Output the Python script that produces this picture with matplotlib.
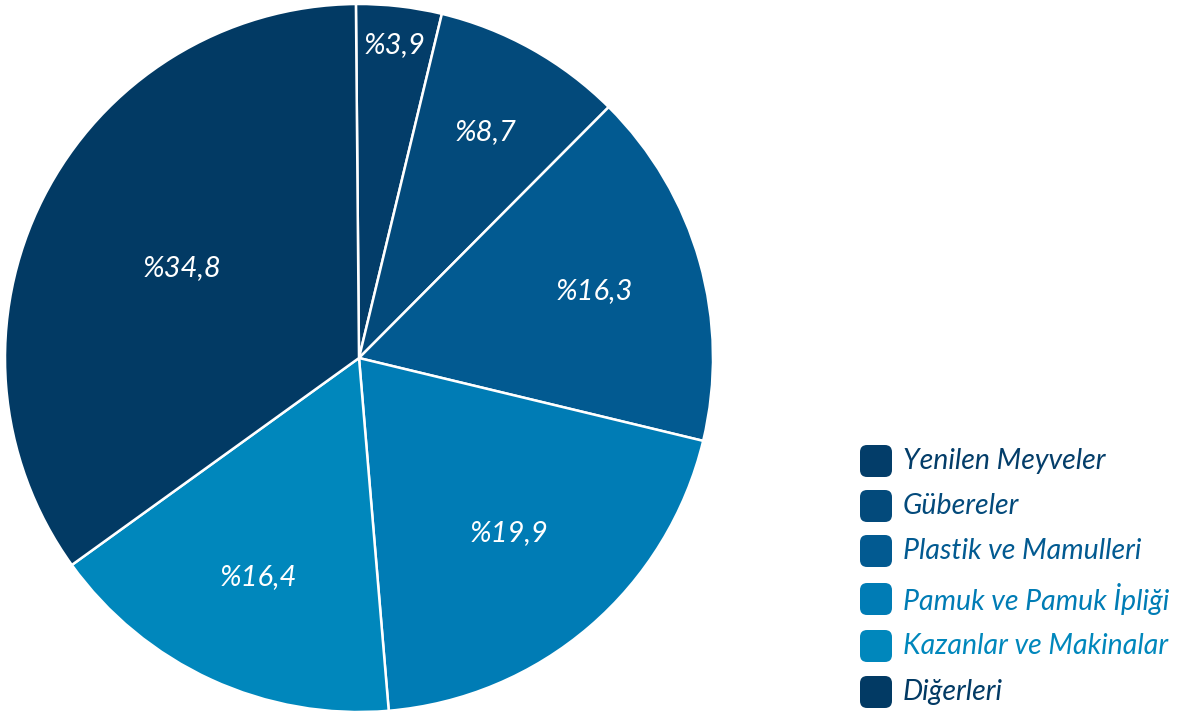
import matplotlib
matplotlib.use("Agg")
import matplotlib.pyplot as plt
from matplotlib.patches import FancyBboxPatch
import numpy as np

categories = ["Yenilen Meyveler", "Gübereler", "Plastik ve Mamulleri",
              "Pamuk ve Pamuk İpliği", "Kazanlar ve Makinalar", "Diğerleri"]
values = [3.9, 8.7, 16.3, 19.9, 16.4, 34.8]
labels = ["%3,9", "%8,7", "%16,3", "%19,9", "%16,4", "%34,8"]
colors = ["#033d69", "#034a7b", "#025a91", "#007cb5", "#0087bc", "#023a64"]
label_dist = [0.89, 0.73, 0.69, 0.65, 0.68, 0.56]

W, H = 1183, 716
fig = plt.figure(figsize=(W / 100, H / 100), dpi=100)
cx, cy, r = 359, 358, 354
ax = fig.add_axes([(cx - r) / W, (H - cy - r) / H, 2 * r / W, 2 * r / H])
wedges, _ = ax.pie(values, colors=colors, startangle=90.5, counterclock=False,
                   radius=1, wedgeprops=dict(edgecolor="white", linewidth=1.8))
ax.set_xlim(-1, 1)
ax.set_ylim(-1, 1)
ax.set_aspect("equal")
ax.axis("off")

for w, lab, d in zip(wedges, labels, label_dist):
    ang = np.deg2rad((w.theta1 + w.theta2) / 2)
    ax.text(d * np.cos(ang), d * np.sin(ang), lab, color="white",
            fontsize=21, family="Lato", style="italic",
            ha="center", va="center")

row_y = [461, 506, 551, 599, 646, 692]
for cat, col, y in zip(categories, colors, row_y):
    box = FancyBboxPatch(((860) / W, (H - y - 16) / H), 32 / W, 32 / H,
                         boxstyle="round,pad=0,rounding_size=0.006",
                         transform=fig.transFigure, facecolor=col, edgecolor="none",
                         mutation_aspect=W / H)
    fig.patches.append(box)
    fig.text(903 / W, (H - y) / H, cat, color=col, fontsize=20.5, family="Lato",
             style="italic", ha="left", va="center")

fig.savefig("out.png", dpi=100)
